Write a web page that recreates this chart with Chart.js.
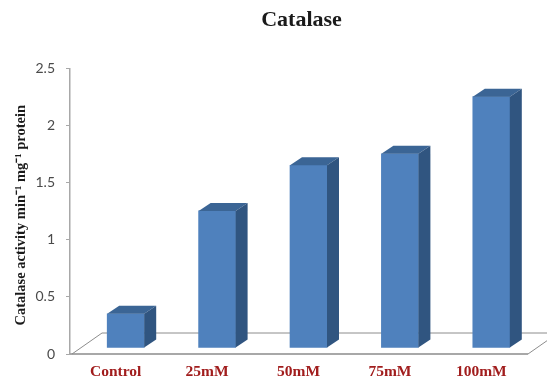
<!DOCTYPE html>
<html>
<head>
<meta charset="utf-8">
<style>html,body{margin:0;padding:0;background:#fff}canvas{display:block}</style>
<script src="https://cdn.jsdelivr.net/npm/chart.js@4"></script>
</head>
<body>
<canvas id="c" width="547" height="379"></canvas>
<script>
const categories = ["Control", "25mM", "50mM", "75mM", "100mM"];
const values = [0.3, 1.2, 1.6, 1.7, 2.2];
const yTicks = [0, 0.5, 1, 1.5, 2, 2.5];
const titleText = "Catalase";
const yTitle = "Catalase activity min\u207B\u00B9 mg\u207B\u00B9 protein";

const FRONT = "#4f81bd", TOP = "#3b6595", SIDE = "#305580";
const shift = {x: 10, y: -6}, depth = {x: 12, y: -8};

const box3d = {
  id: "box3d",
  afterLayout(chart) {
    chart.titleBlock.left = 56;
    chart.titleBlock.right = 547;
    const y = chart.scales.y, ctx = chart.ctx;
    const base = Object.getPrototypeOf(y).drawTitle;
    y.drawTitle = function () {
      ctx.save();
      ctx.translate(0, 4);
      base.call(this);
      ctx.restore();
    };
  },
  beforeDatasetsDraw(chart) {
    const {ctx, chartArea: a} = chart;
    ctx.save();
    ctx.strokeStyle = "#8c8c8c";
    ctx.lineWidth = 1;
    ctx.beginPath();
    ctx.moveTo(a.left + 2, a.bottom);
    ctx.lineTo(a.left + 32, a.bottom - 21);
    ctx.lineTo(547, a.bottom - 21);
    ctx.moveTo(a.right + 1, a.bottom);
    ctx.lineTo(a.right + 31, a.bottom - 21);
    ctx.stroke();
    ctx.restore();
    ctx.save();
    ctx.translate(shift.x, shift.y);
  },
  afterDatasetsDraw(chart) {
    const ctx = chart.ctx;
    chart.getDatasetMeta(0).data.forEach(bar => {
      const l = bar.x - bar.width / 2, r = bar.x + bar.width / 2, t = bar.y, b = bar.base;
      ctx.fillStyle = TOP;
      ctx.beginPath();
      ctx.moveTo(l, t);
      ctx.lineTo(l + depth.x, t + depth.y);
      ctx.lineTo(r + depth.x, t + depth.y);
      ctx.lineTo(r, t);
      ctx.closePath();
      ctx.fill();
      ctx.fillStyle = SIDE;
      ctx.beginPath();
      ctx.moveTo(r, t);
      ctx.lineTo(r + depth.x, t + depth.y);
      ctx.lineTo(r + depth.x, b + depth.y);
      ctx.lineTo(r, b);
      ctx.closePath();
      ctx.fill();
    });
    ctx.restore();
  }
};

new Chart(document.getElementById("c"), {
  type: "bar",
  plugins: [box3d],
  data: {
    labels: categories,
    datasets: [{
      data: values,
      backgroundColor: FRONT,
      barThickness: 37,
      clip: false
    }]
  },
  options: {
    responsive: false,
    animation: false,
    devicePixelRatio: 1,
    layout: {padding: {left: 0, right: 20, top: 0, bottom: 0}},
    plugins: {
      legend: {display: false},
      tooltip: {enabled: false},
      title: {
        display: true,
        text: titleText,
        color: "#1a1a1a",
        font: {family: "Liberation Serif", size: 22, weight: "bold"},
        padding: {top: 7, bottom: 35}
      }
    },
    scales: {
      x: {
        grid: {display: false},
        border: {color: "#a8a8a8", width: 2},
        ticks: {
          color: "#a11d1d",
          font: {family: "Liberation Serif", size: 15.5, weight: "bold"},
          padding: 1,
          maxRotation: 0
        },
        afterFit(s) { s.height = 25; }
      },
      y: {
        min: 0,
        max: 2.5,
        afterBuildTicks(s) { s.ticks = yTicks.map(v => ({value: v})); },
        grid: {drawOnChartArea: false, color: "#a8a8a8", tickLength: 4},
        border: {color: "#a8a8a8", width: 1.5},
        ticks: {
          color: "#4a4a4a",
          font: {family: "Lato", size: 14},
          padding: 11,
          callback: v => String(v)
        },
        title: {
          display: true,
          text: yTitle,
          color: "#1a1a1a",
          font: {family: "Liberation Serif", size: 14.5, weight: "bold"},
          padding: {top: 13, bottom: 0}
        },
        afterFit(s) { s.width = 70; }
      }
    }
  }
});
</script>
</body>
</html>
